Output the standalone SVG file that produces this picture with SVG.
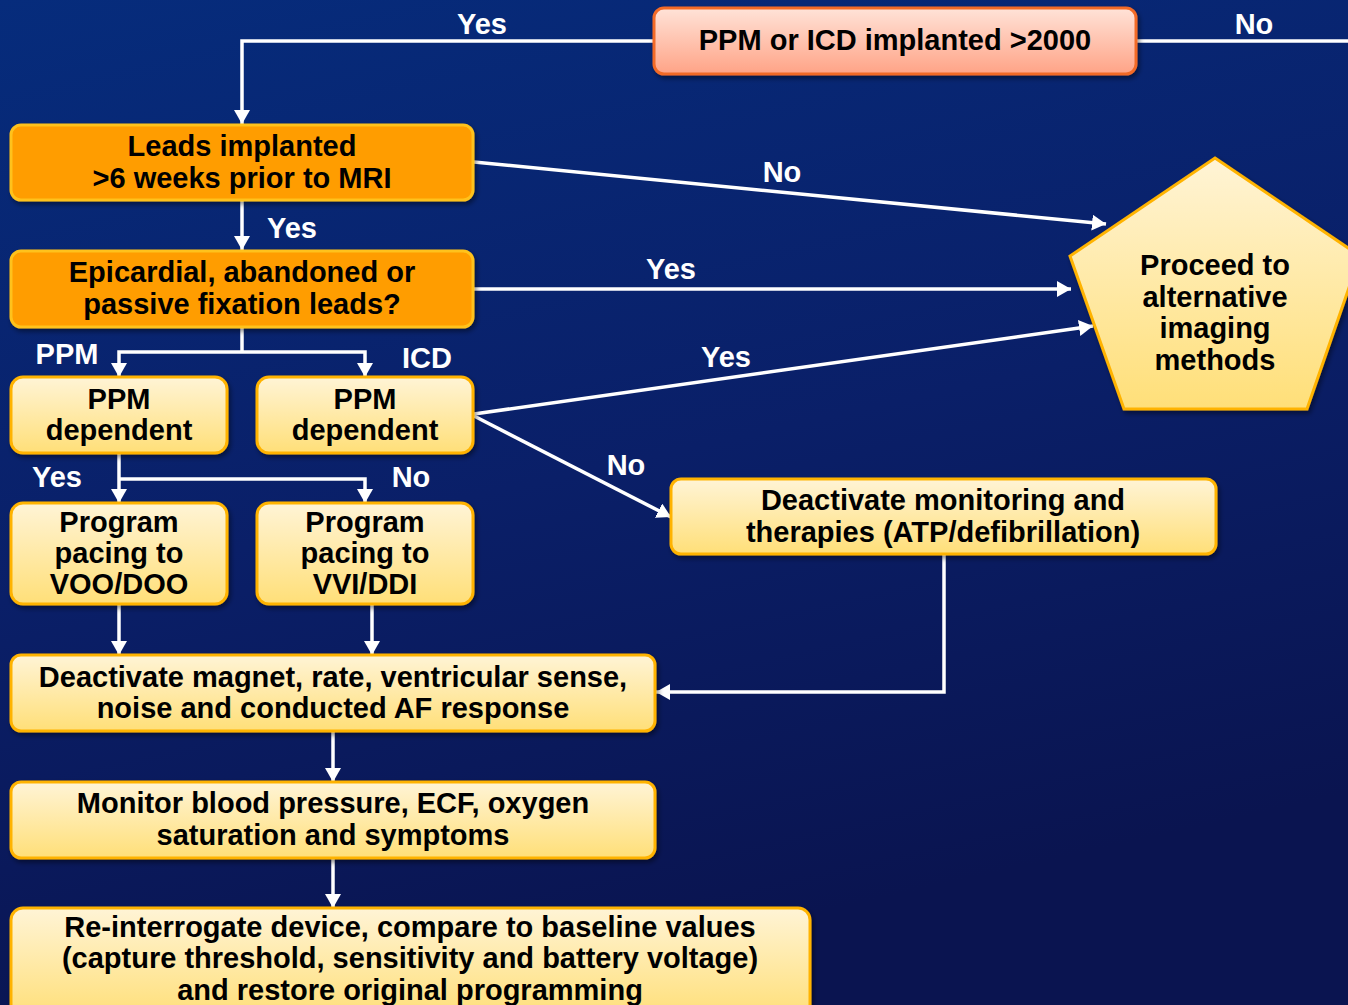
<svg xmlns="http://www.w3.org/2000/svg" width="1348" height="1005" viewBox="0 0 1348 1005">
  <defs>
    <linearGradient id="bg" x1="0" y1="0" x2="0.3" y2="1">
      <stop offset="0" stop-color="#062c7c"/>
      <stop offset="0.55" stop-color="#0a1f68"/>
      <stop offset="1" stop-color="#0a1450"/>
    </linearGradient>
    <linearGradient id="salmon" x1="0" y1="0" x2="0" y2="1">
      <stop offset="0" stop-color="#ffe3d8"/>
      <stop offset="1" stop-color="#ffa386"/>
    </linearGradient>
    <linearGradient id="cream" x1="0" y1="0" x2="0" y2="1">
      <stop offset="0" stop-color="#fff4d6"/>
      <stop offset="1" stop-color="#ffdf78"/>
    </linearGradient>
    <filter id="shadow" x="-10%" y="-10%" width="120%" height="130%">
      <feDropShadow dx="2" dy="3" stdDeviation="2.5" flood-color="#000" flood-opacity="0.45"/>
    </filter>
    <marker id="arrow" viewBox="0 0 14 16" refX="14" refY="8" markerWidth="14" markerHeight="16" markerUnits="userSpaceOnUse" orient="auto">
      <path d="M0,0 L14,8 L0,16 Z" fill="#fff"/>
    </marker>
    <style>
      .box { stroke-width: 3; filter: url(#shadow); }
      .pink { fill: url(#salmon); stroke: #f26a28; }
      .orange { fill: #ff9d00; stroke: #ffc21a; }
      .light { fill: url(#cream); stroke: #ffb300; }
      .t { font-family: "Liberation Sans", Arial, sans-serif; font-weight: bold; font-size: 29px; fill: #000; text-anchor: middle; }
      .lbl { font-family: "Liberation Sans", Arial, sans-serif; font-weight: bold; font-size: 29px; fill: #fff; text-anchor: middle; }
      .c { stroke: #fff; stroke-width: 3.5; fill: none; }
      .a { marker-end: url(#arrow); }
    </style>
  </defs>

  <rect width="1348" height="1005" fill="url(#bg)"/>

  <!-- connectors -->
  <g id="connectors">
    <polyline class="c a" points="654,41 242,41 242,124"/>
    <line class="c" x1="1136" y1="41" x2="1348" y2="41"/>
    <line class="c a" x1="242" y1="201" x2="242" y2="250"/>
    <line class="c a" x1="474" y1="162" x2="1106" y2="224"/>
    <line class="c a" x1="474" y1="289" x2="1071" y2="289"/>
    <line class="c a" x1="474" y1="414" x2="1093" y2="326"/>
    <line class="c a" x1="474" y1="416" x2="671" y2="517"/>
    <line class="c" x1="242" y1="328" x2="242" y2="352"/>
    <polyline class="c a" points="242,352 119,352 119,377"/>
    <polyline class="c a" points="242,352 365,352 365,377"/>
    <line class="c a" x1="119" y1="454" x2="119" y2="503"/>
    <polyline class="c a" points="119,479 365,479 365,503"/>
    <line class="c a" x1="119" y1="605" x2="119" y2="655"/>
    <line class="c a" x1="372" y1="605" x2="372" y2="655"/>
    <polyline class="c a" points="944,555 944,692 656,692"/>
    <line class="c a" x1="333" y1="732" x2="333" y2="782"/>
    <line class="c a" x1="333" y1="859" x2="333" y2="908"/>
  </g>

  <!-- connector labels -->
  <g id="labels">
    <text class="lbl" x="482" y="34">Yes</text>
    <text class="lbl" x="1254" y="34">No</text>
    <text class="lbl" x="292" y="238">Yes</text>
    <text class="lbl" x="782" y="182">No</text>
    <text class="lbl" x="671" y="279">Yes</text>
    <text class="lbl" x="726" y="367">Yes</text>
    <text class="lbl" x="626" y="475">No</text>
    <text class="lbl" x="67" y="364">PPM</text>
    <text class="lbl" x="427" y="368">ICD</text>
    <text class="lbl" x="57" y="487">Yes</text>
    <text class="lbl" x="411" y="487">No</text>
  </g>

  <g id="n-implanted">
    <rect class="box pink" x="654" y="8" width="482" height="66" rx="10"/>
    <text class="t" x="895" y="50">PPM or ICD implanted &gt;2000</text>
  </g>

  <g id="n-leads-age">
    <rect class="box orange" x="11" y="125" width="462" height="75" rx="10"/>
    <text class="t" x="242" y="156">Leads implanted</text>
    <text class="t" x="242" y="188">&gt;6 weeks prior to MRI</text>
  </g>

  <g id="n-lead-type">
    <rect class="box orange" x="11" y="251" width="462" height="76" rx="10"/>
    <text class="t" x="242" y="282">Epicardial, abandoned or</text>
    <text class="t" x="242" y="314">passive fixation leads?</text>
  </g>

  <g id="n-alternative">
    <polygon class="box light" points="1215,158 1360,256 1307,409 1124,409 1070,256"/>
    <text class="t" x="1215" y="275">Proceed to</text>
    <text class="t" x="1215" y="307">alternative</text>
    <text class="t" x="1215" y="338">imaging</text>
    <text class="t" x="1215" y="370">methods</text>
  </g>

  <g id="n-ppm-dependent">
    <rect class="box light" x="11" y="377" width="216" height="76" rx="12"/>
    <text class="t" x="119" y="409">PPM</text>
    <text class="t" x="119" y="440">dependent</text>
  </g>

  <g id="n-icd-dependent">
    <rect class="box light" x="257" y="377" width="216" height="76" rx="12"/>
    <text class="t" x="365" y="409">PPM</text>
    <text class="t" x="365" y="440">dependent</text>
  </g>

  <g id="n-voo">
    <rect class="box light" x="11" y="503" width="216" height="101" rx="12"/>
    <text class="t" x="119" y="532">Program</text>
    <text class="t" x="119" y="563">pacing to</text>
    <text class="t" x="119" y="594">VOO/DOO</text>
  </g>

  <g id="n-vvi">
    <rect class="box light" x="257" y="503" width="216" height="101" rx="12"/>
    <text class="t" x="365" y="532">Program</text>
    <text class="t" x="365" y="563">pacing to</text>
    <text class="t" x="365" y="594">VVI/DDI</text>
  </g>

  <g id="n-deactivate-therapies">
    <rect class="box light" x="671" y="479" width="545" height="75" rx="10"/>
    <text class="t" x="943" y="510">Deactivate monitoring and</text>
    <text class="t" x="943" y="542">therapies (ATP/defibrillation)</text>
  </g>

  <g id="n-deactivate-magnet">
    <rect class="box light" x="11" y="655" width="644" height="76" rx="10"/>
    <text class="t" x="333" y="687">Deactivate magnet, rate, ventricular sense,</text>
    <text class="t" x="333" y="718">noise and conducted AF response</text>
  </g>

  <g id="n-monitor">
    <rect class="box light" x="11" y="782" width="644" height="76" rx="10"/>
    <text class="t" x="333" y="813">Monitor blood pressure, ECF, oxygen</text>
    <text class="t" x="333" y="845">saturation and symptoms</text>
  </g>

  <g id="n-reinterrogate">
    <rect class="box light" x="11" y="908" width="799" height="110" rx="12"/>
    <text class="t" x="410" y="937">Re-interrogate device, compare to baseline values</text>
    <text class="t" x="410" y="968">(capture threshold, sensitivity and battery voltage)</text>
    <text class="t" x="410" y="1000">and restore original programming</text>
  </g>
</svg>
